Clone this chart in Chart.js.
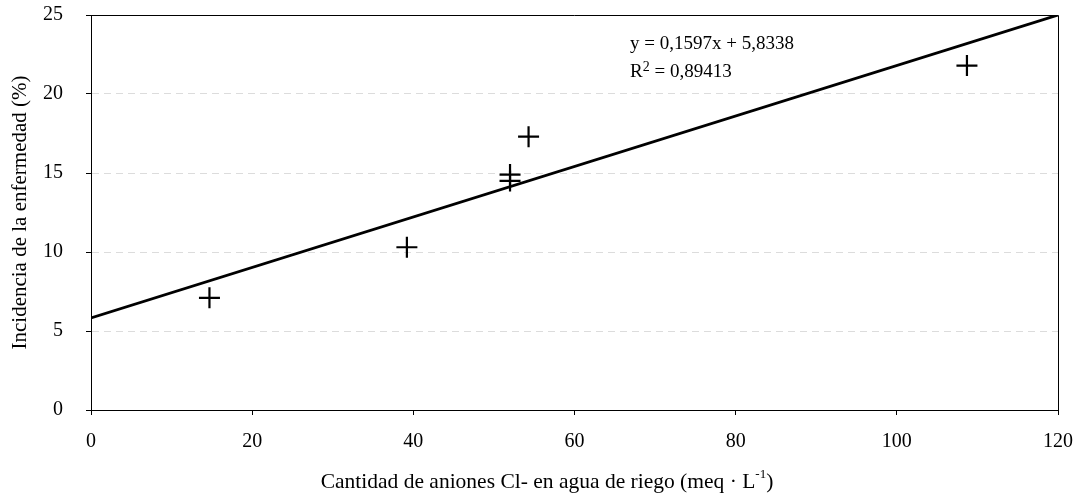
<!DOCTYPE html>
<html>
<head>
<meta charset="utf-8">
<script src="https://cdn.jsdelivr.net/npm/chart.js@4.4.0/dist/chart.umd.min.js"></script>
<style>
  html, body { margin: 0; padding: 0; background: #fff; }
  #wrap { width: 1075px; height: 494px; }
</style>
</head>
<body>
<div id="wrap"><canvas id="chart"></canvas></div>
<script>
// datos
const cloruros = [14.7, 39.2, 52.0, 52.0, 54.3, 108.7];
const incidencia = [7.1, 10.3, 14.9, 14.5, 17.3, 21.8];
const trendX = [0, 120];
const trendY = [5.83, 25.0];
const ecuacion = 'y = 0,1597x + 5,8338';
const r2 = '0,89413';

const serif = '"Liberation Serif", "Times New Roman", serif';

const points = cloruros.map((x, i) => ({ x: x, y: incidencia[i] }));
const trend = trendX.map((x, i) => ({ x: x, y: trendY[i] }));

// borde superior/derecho, ecuacion y titulo del eje x con superindice
const extras = {
    id: 'extras',
    afterDraw(chart) {
        const { ctx, chartArea: a } = chart;
        ctx.save();
        ctx.strokeStyle = '#000';
        ctx.lineWidth = 1;
        ctx.beginPath();
        ctx.moveTo(a.left, a.top + 0.5);
        ctx.lineTo(a.right + 0.5, a.top + 0.5);
        ctx.lineTo(a.right + 0.5, a.bottom);
        ctx.stroke();

        ctx.fillStyle = '#000';
        ctx.textBaseline = 'middle';
        ctx.textAlign = 'left';
        ctx.font = '19px ' + serif;
        const ex = 630;
        ctx.fillText(ecuacion, ex, 44);
        ctx.fillText('R', ex, 72);
        let w = ctx.measureText('R').width;
        ctx.font = '14px ' + serif;
        ctx.fillText('2', ex + w, 67);
        w += ctx.measureText('2').width;
        ctx.font = '19px ' + serif;
        ctx.fillText(' = ' + r2, ex + w, 72);

        // titulo eje x
        const big = '21.5px ' + serif, small = '13px ' + serif;
        const t1 = 'Cantidad de aniones Cl- en agua de riego (meq · L';
        const t3 = ')';
        ctx.font = small;
        const w2 = ctx.measureText('-1').width;
        ctx.font = big;
        const w1 = ctx.measureText(t1).width;
        const w3 = ctx.measureText(t3).width;
        let x0 = 547 - (w1 + w2 + w3) / 2;
        const ty = 482;
        ctx.fillText(t1, x0, ty);
        ctx.font = small;
        ctx.fillText('-1', x0 + w1, ty - 7);
        ctx.font = big;
        ctx.fillText(t3, x0 + w1 + w2, ty);
        ctx.restore();
    }
};

new Chart(document.getElementById('chart'), {
    type: 'scatter',
    data: {
        datasets: [{
            label: 'Incidencia',
            data: points,
            pointStyle: 'cross',
            pointRadius: 10.5,
            pointBorderWidth: 2.2,
            borderColor: '#000',
            backgroundColor: '#000',
            showLine: false
        }, {
            label: 'Tendencia',
            data: trend,
            showLine: true,
            pointRadius: 0,
            borderColor: '#000',
            borderWidth: 2.8,
            fill: false
        }]
    },
    options: {
        responsive: true,
        maintainAspectRatio: false,
        animation: false,
        layout: { padding: { top: 15, right: 17, left: 0, bottom: 0 } },
        plugins: {
            legend: { display: false },
            tooltip: { enabled: false }
        },
        scales: {
            x: {
                type: 'linear',
                min: 0,
                max: 120,
                ticks: {
                    stepSize: 20,
                    color: '#000',
                    padding: 15,
                    maxRotation: 0,
                    font: { family: serif, size: 20 }
                },
                grid: {
                    drawOnChartArea: false,
                    tickLength: 5,
                    tickColor: '#000'
                },
                border: { color: '#000', width: 1 },
                afterFit(scale) {
                    scale.height = 84;
                    scale.paddingLeft = 0;
                    scale.paddingRight = 0;
                }
            },
            y: {
                min: 0,
                max: 25,
                ticks: {
                    stepSize: 5,
                    color: '#000',
                    padding: 23,
                    font: { family: serif, size: 20 }
                },
                grid: {
                    color: ctx => (ctx.tick && (ctx.tick.value === 0 || ctx.tick.value === 25)) ? 'rgba(0,0,0,0)' : '#dcdcdc',
                    tickLength: 5,
                    tickColor: '#000'
                },
                border: { color: '#000', width: 1, dash: [7, 5] },
                title: {
                    display: true,
                    text: 'Incidencia de la enfermedad (%)',
                    color: '#000',
                    font: { family: serif, size: 21 },
                    padding: { top: 8, bottom: 0 }
                },
                afterFit(scale) {
                    scale.width = 91;
                    scale.paddingTop = 0;
                    scale.paddingBottom = 0;
                }
            }
        }
    },
    plugins: [extras]
});
</script>
</body>
</html>
